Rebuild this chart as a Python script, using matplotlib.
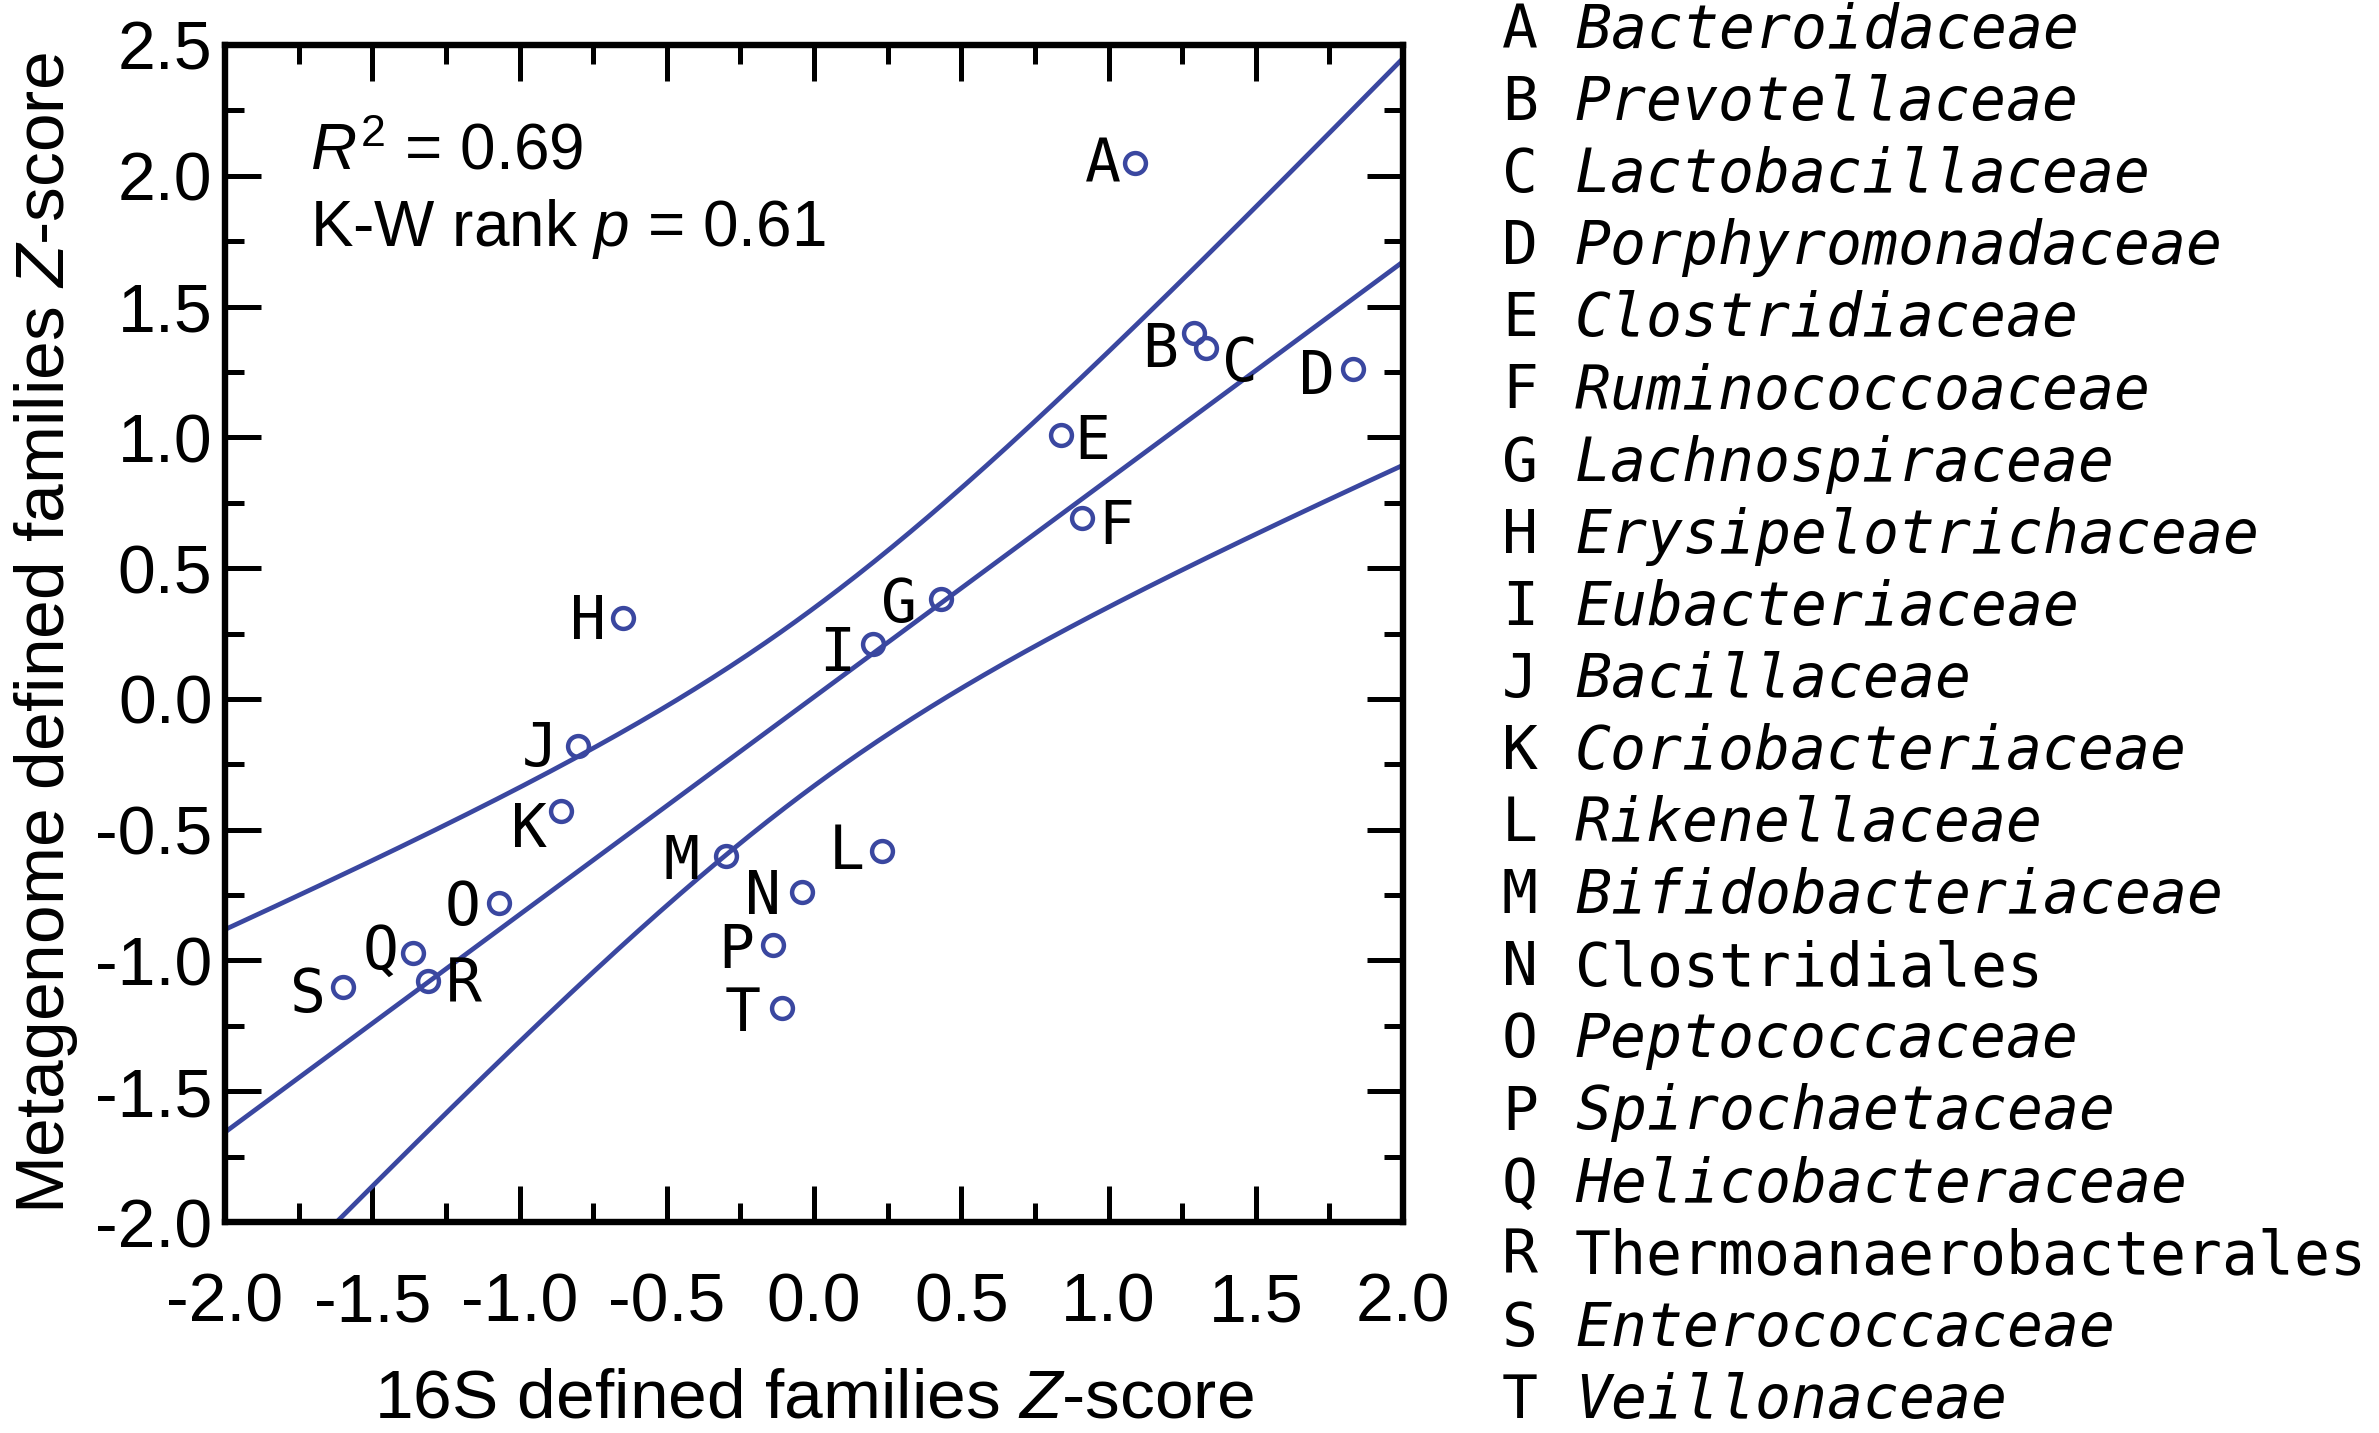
import numpy as np
import matplotlib
matplotlib.use("Agg")
import matplotlib.pyplot as plt
from matplotlib.ticker import MultipleLocator, FormatStrFormatter

plt.rcParams["font.family"] = ["Liberation Sans", "DejaVu Sans"]
plt.rcParams["mathtext.fontset"] = "custom"
plt.rcParams["mathtext.rm"] = "Liberation Sans"
plt.rcParams["mathtext.it"] = "Liberation Sans:italic"
plt.rcParams["axes.unicode_minus"] = False

# family codes, 16S z-scores and metagenome z-scores
letters = list("ABCDEFGHIJKLMNOPQRST")
z_16s = [1.09, 1.29, 1.33, 1.83, 0.84, 0.91, 0.43, -0.65, 0.20, -0.80,
         -0.86, 0.23, -0.30, -0.04, -1.07, -0.14, -1.36, -1.31, -1.60, -0.11]
z_meta = [2.05, 1.40, 1.34, 1.26, 1.01, 0.69, 0.38, 0.31, 0.21, -0.18,
          -0.43, -0.58, -0.60, -0.74, -0.78, -0.94, -0.97, -1.08, -1.10, -1.18]
families = ["Bacteroidaceae", "Prevotellaceae", "Lactobacillaceae",
            "Porphyromonadaceae", "Clostridiaceae", "Ruminococcoaceae",
            "Lachnospiraceae", "Erysipelotrichaceae", "Eubacteriaceae",
            "Bacillaceae", "Coriobacteriaceae", "Rikenellaceae",
            "Bifidobacteriaceae", "Clostridiales", "Peptococcaceae",
            "Spirochaetaceae", "Helicobacteraceae", "Thermoanaerobacterales",
            "Enterococcaceae", "Veillonaceae"]
# orders (not families) are set upright
upright = {"Clostridiales", "Thermoanaerobacterales"}
r_squared = 0.69
kw_p = 0.61

# label offsets in points, relative to each marker
label_offsets = {
    "A": (-23, 2), "B": (-24, -8), "C": (25, -7), "D": (-26, -1),
    "E": (22, -1), "F": (25, -2), "G": (-30, 0), "H": (-25, 1),
    "I": (-26, -3), "J": (-28, 2), "K": (-23, -9), "L": (-25, 3),
    "M": (-32, 0), "N": (-28, 1), "O": (-26, 1), "P": (-26, 0),
    "Q": (-24, 5), "R": (26, 1), "S": (-25, -2), "T": (-28, 0),
}

BLUE = "#3a47a0"
MONO = "DejaVu Sans Mono"

x = np.array(z_16s)
y = np.array(z_meta)
n = len(x)

# least squares fit with a 95% Working-Hotelling confidence band
slope, intercept = np.polyfit(x, y, 1)
resid = y - (slope * x + intercept)
s = np.sqrt(np.sum(resid ** 2) / (n - 2))
sxx = np.sum((x - x.mean()) ** 2)
F_CRIT = 3.555  # F(0.95; 2, 18)
w = np.sqrt(2 * F_CRIT)
xs = np.linspace(-2, 2, 400)
fit = slope * xs + intercept
half = w * s * np.sqrt(1.0 / n + (xs - x.mean()) ** 2 / sxx)

fig = plt.figure(figsize=(23.79, 14.33), dpi=100)
ax = fig.add_axes([225 / 2379, 1 - 1222 / 1433, 1178 / 2379, 1177 / 1433])

ax.plot(xs, fit, color=BLUE, lw=3.4)
ax.plot(xs, fit + half, color=BLUE, lw=3.4)
ax.plot(xs, fit - half, color=BLUE, lw=3.4)
ax.plot(x, y, "o", mfc="none", mec=BLUE, mew=3.2, ms=15, zorder=3)

for lab, xi, yi in zip(letters, x, y):
    dx, dy = label_offsets[lab]
    ax.annotate(lab, (xi, yi), xytext=(dx, dy), textcoords="offset points",
                ha="center", va="center_baseline", family=MONO, fontsize=43)

ax.set_xlim(-2, 2)
ax.set_ylim(-2, 2.5)
ax.xaxis.set_major_locator(MultipleLocator(0.5))
ax.xaxis.set_minor_locator(MultipleLocator(0.25))
ax.yaxis.set_major_locator(MultipleLocator(0.5))
ax.yaxis.set_minor_locator(MultipleLocator(0.25))
ax.xaxis.set_major_formatter(FormatStrFormatter("%.1f"))
ax.yaxis.set_major_formatter(FormatStrFormatter("%.1f"))
ax.tick_params(which="both", direction="in", top=True, right=True, width=3.6)
ax.tick_params(which="major", length=26)
ax.tick_params(which="minor", length=14)
ax.tick_params(axis="x", which="major", labelsize=49, pad=36)
ax.tick_params(axis="y", which="major", labelsize=49, pad=9)
for sp in ax.spines.values():
    sp.set_linewidth(4.6)

ax.text(0.072, 0.894, "$R^2$ = %.2f" % r_squared, transform=ax.transAxes,
        fontsize=46, va="baseline")
ax.text(0.072, 0.829, "K-W rank $p$ = %.2f" % kw_p, transform=ax.transAxes,
        fontsize=46, va="baseline")

fig.text(814 / 2379, 1 - 1418 / 1433, "16S defined families $Z$-score",
         fontsize=50, ha="center", va="baseline")
fig.text(46 / 2379, 1 - 633 / 1433, "Metagenome defined families $Z$-score",
         fontsize=50, ha="center", va="center", rotation=90)

# key of letter codes down the right side
for i, (lab, fam) in enumerate(zip(letters, families)):
    yb = 1 - (48 + i * 72.1) / 1433
    fig.text(1502 / 2379, yb, lab, family=MONO, fontsize=43, va="baseline")
    fig.text(1575 / 2379, yb, fam, family=MONO, fontsize=43, va="baseline",
             style="normal" if fam in upright else "italic")

fig.savefig("out.png", dpi=100)
